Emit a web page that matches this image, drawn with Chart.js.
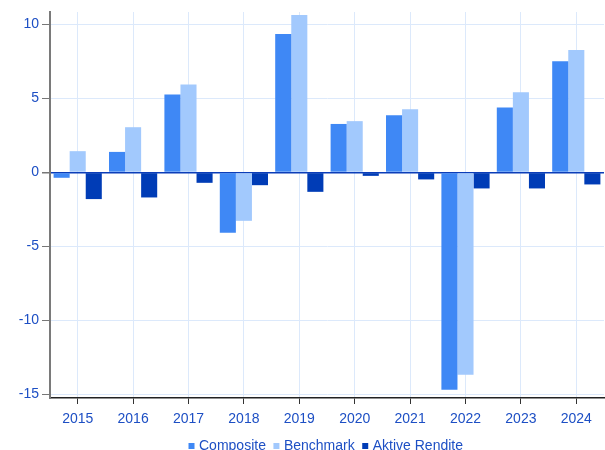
<!DOCTYPE html>
<html>
<head>
<meta charset="utf-8">
<script src="https://cdn.jsdelivr.net/npm/chart.js@4/dist/chart.umd.min.js"></script>
<style>
  body { margin: 0; overflow: hidden; background: #fff; }
</style>
</head>
<body>
<canvas id="myChart" width="605" height="463"></canvas>
<script>
// data (percent)
var years = ["2015", "2016", "2017", "2018", "2019", "2020", "2021", "2022", "2023", "2024"];
var composite = [-0.36, 1.39, 5.27, -4.08, 9.37, 3.28, 3.87, -14.7, 4.39, 7.52];
var benchmark = [1.44, 3.06, 5.95, -3.27, 10.65, 3.47, 4.28, -13.68, 5.43, 8.28];
var aktiveRendite = [-1.8, -1.69, -0.7, -0.86, -1.31, -0.23, -0.47, -1.08, -1.08, -0.81];
var yTicks = [-15, -10, -5, 0, 5, 10];

var textBlue = "#1d4fc4";
var gridBlue = "#dce9fb";

Chart.defaults.font.family = "'Liberation Sans', Arial, sans-serif";
Chart.defaults.font.size = 14;
Chart.defaults.color = textBlue;

var ctx = document.getElementById("myChart").getContext("2d");
var chart = new Chart(ctx, {
  type: "bar",
  data: {
    labels: years,
    datasets: [
      { label: "Composite", data: composite, backgroundColor: "#3f88f5" },
      { label: "Benchmark", data: benchmark, backgroundColor: "#a2c9fd" },
      { label: "Aktive Rendite", data: aktiveRendite, backgroundColor: "#003cb6" },
    ],
  },
  options: {
    responsive: false,
    animation: false,
    layout: { padding: { top: 12, right: 1, left: 0, bottom: 0 } },
    datasets: {
      bar: { barPercentage: 1, categoryPercentage: 0.87, borderWidth: 0 },
    },
    plugins: {
      tooltip: { enabled: false },
      legend: {
        position: "bottom",
        fullSize: false,
        labels: {
          usePointStyle: true,
          pointStyle: "rect",
          boxWidth: 1,
          boxHeight: 6,
          padding: 10,
          color: textBlue,
        },
      },
    },
    scales: {
      x: {
        grid: {
          offset: false,
          color: gridBlue,
          tickLength: 6,
          tickColor: "#333",
        },
        border: { color: "#222", width: 1.5 },
        ticks: { padding: 7, color: textBlue },
        afterFit: function (scale) {
          scale.height = 31;
        },
      },
      y: {
        min: -15.25,
        max: 10.85,
        grid: {
          color: function (c) {
            return c.tick && c.tick.value === 0 ? "#0b3db8" : gridBlue;
          },
          lineWidth: function (c) {
            return c.tick && c.tick.value === 0 ? 1.5 : 1;
          },
          tickLength: 8,
          tickColor: "#777",
        },
        border: { color: "#7a7a7a", width: 2 },
        ticks: { padding: 3, color: textBlue },
        afterBuildTicks: function (scale) {
          scale.ticks = yTicks.map(function (v) { return { value: v }; });
        },
        afterFit: function (scale) {
          scale.width = 50;
        },
      },
    },
  },
});
</script>
</body>
</html>
